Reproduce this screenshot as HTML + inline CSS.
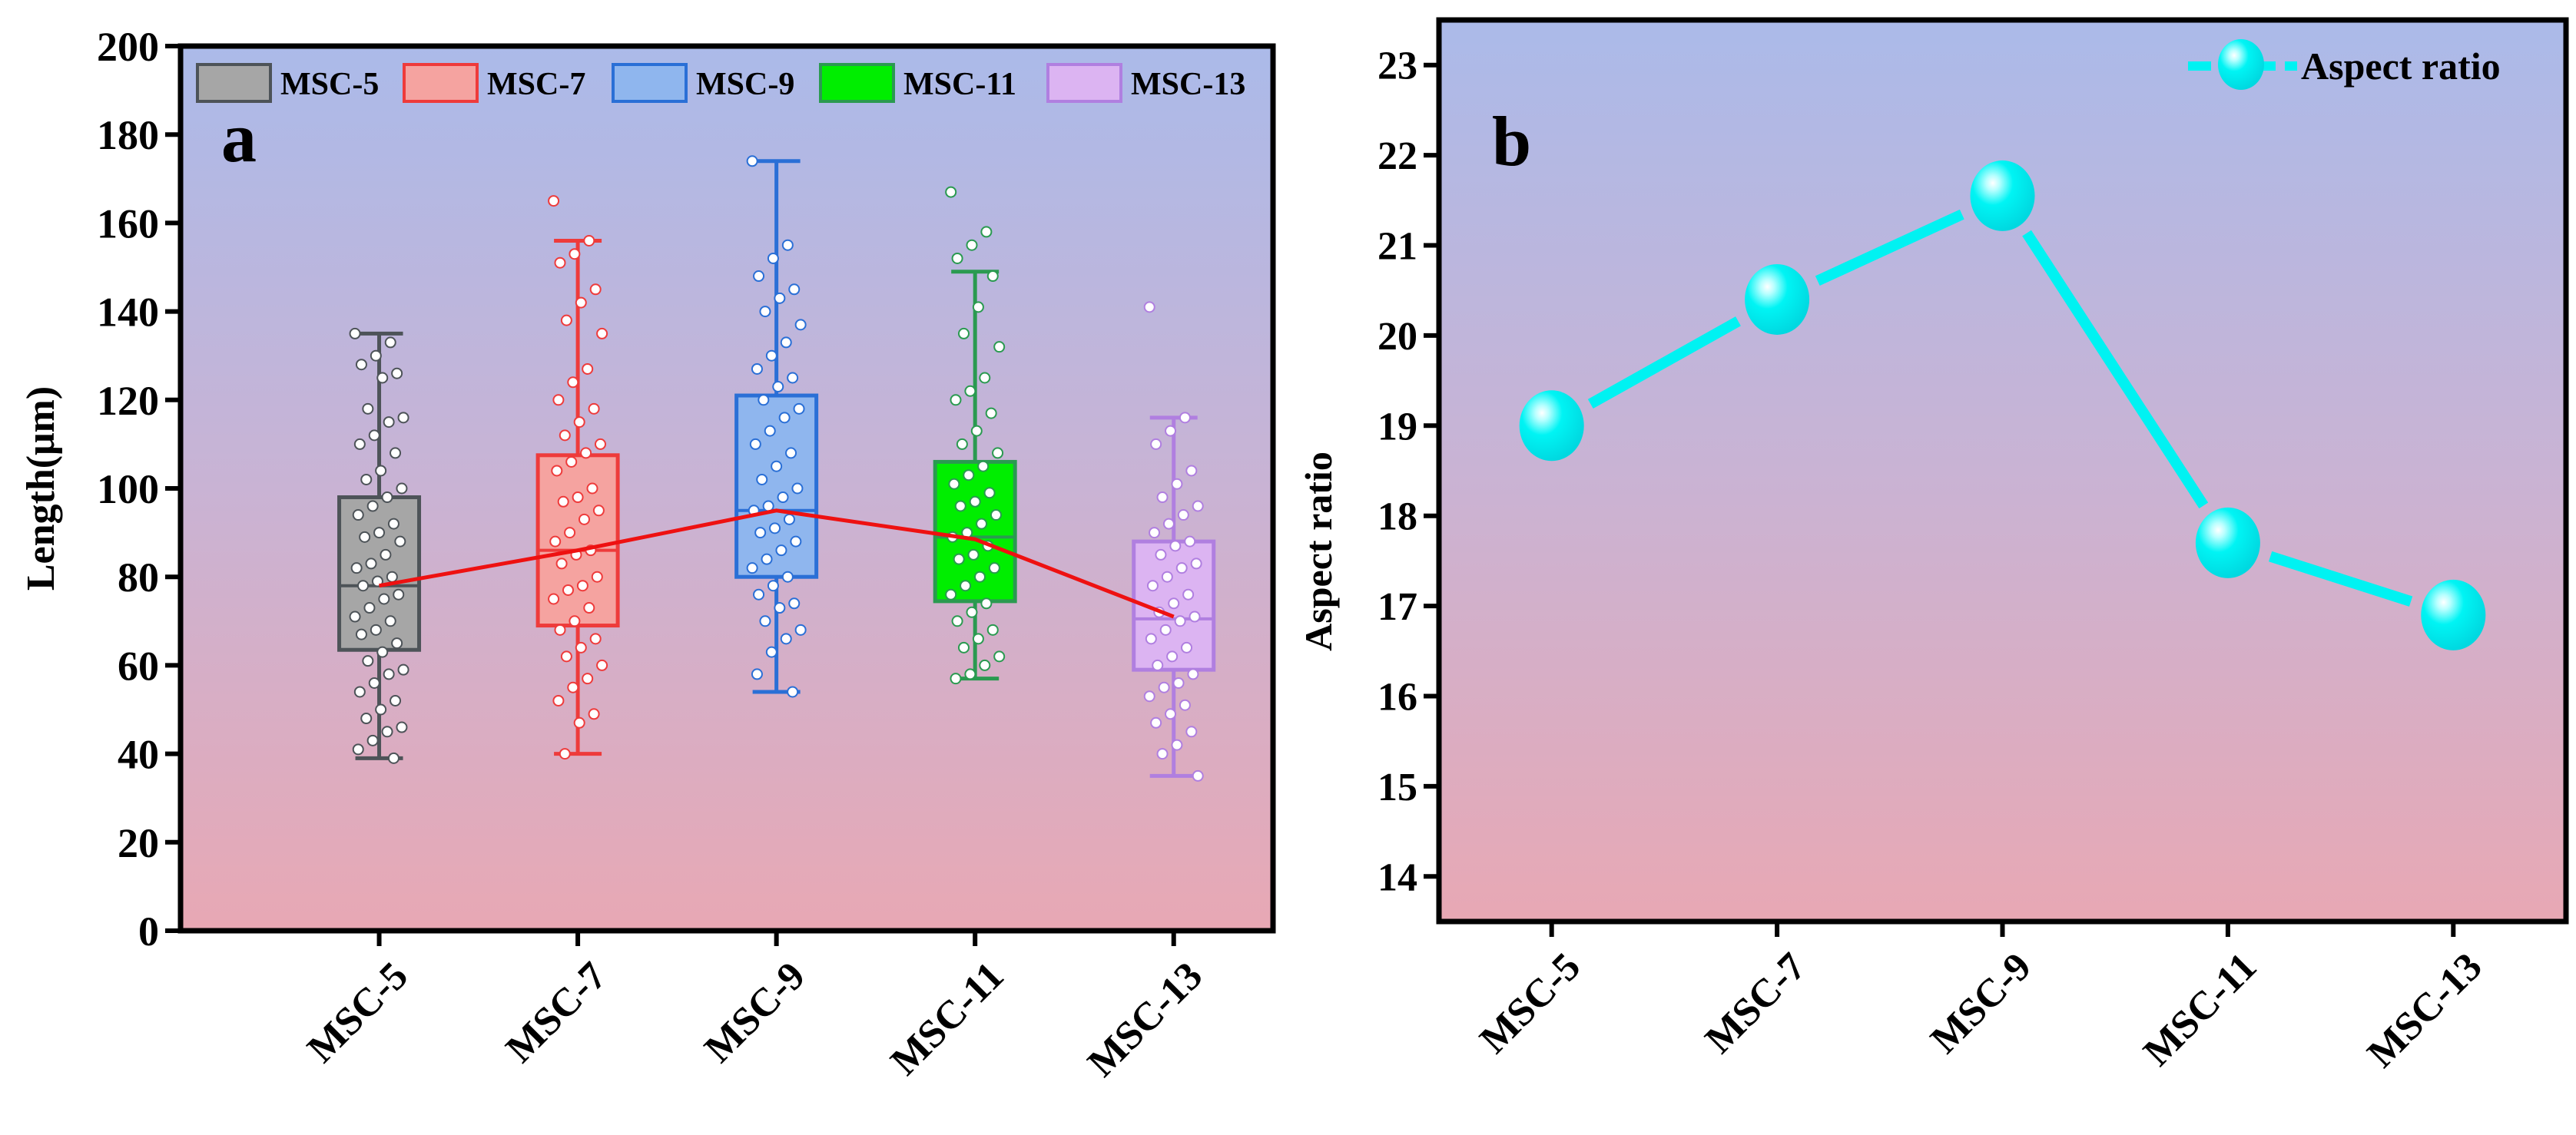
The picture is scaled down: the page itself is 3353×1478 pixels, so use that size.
<!DOCTYPE html>
<html><head><meta charset="utf-8"><style>
html,body{margin:0;padding:0;background:#fff;}
svg text{font-family:"Liberation Serif",serif;font-weight:bold;}
</style></head><body>
<svg id="fig" width="3353" height="1473" viewBox="0 0 3353 1473" xmlns="http://www.w3.org/2000/svg">
<defs>
<linearGradient id="bg" x1="0" y1="0" x2="0" y2="1">
<stop offset="0" stop-color="#abbae9"/><stop offset="0.5" stop-color="#c9b3d4"/><stop offset="1" stop-color="#e8a8b4"/>
</linearGradient>
<radialGradient id="sph" cx="0.35" cy="0.32" r="0.7">
<stop offset="0" stop-color="#ffffff"/><stop offset="0.15" stop-color="#b8ffff"/><stop offset="0.45" stop-color="#00f4f4"/><stop offset="1" stop-color="#00d8e0"/>
</radialGradient>
</defs>
<g id="pa"></g>
<g id="pb"></g>
</svg>
<script>
// ---------- Panel a data ----------
const catsA = ["MSC-5","MSC-7","MSC-9","MSC-11","MSC-13"];
const whiskLow = [39,40,54,57,35];
const q1 = [63.5,69,80,74.5,59];
const medians = [78,86,95,89,70.5];
const q3 = [98,107.5,121,106,88];
const whiskHigh = [135,156,174,149,116];
const means = [78,86,95,88.5,71];
const yTicksA = [0,20,40,60,80,100,120,140,160,180,200];
const pts5 = [135,133,130,128,126,125,118,116,115,112,110,108,104,102,100,98,96,94,92,90,89,88,85,83,82,80,79,78,76,75,73,71,70,68,67,65,63,61,59,58,56,54,52,50,48,46,45,43,41,39];
const pts7 = [165,156,153,151,145,142,138,135,127,124,120,118,115,112,110,108,106,104,100,98,97,95,93,90,88,86,85,83,80,78,77,75,73,70,68,66,64,62,60,57,55,52,49,47,40];
const pts9 = [174,155,152,148,145,143,140,137,133,130,127,125,123,120,118,116,113,110,108,105,102,100,98,96,95,93,91,90,88,86,84,82,80,78,76,74,73,70,68,66,63,58,54];
const pts11 = [167,158,155,152,148,141,135,132,125,122,120,117,113,110,108,105,103,101,99,97,96,94,92,90,89,87,85,84,82,80,78,76,74,72,70,68,66,64,62,60,58,57];
const pts13 = [141,116,113,110,104,101,98,96,94,92,90,88,87,85,83,82,80,78,76,74,72,71,70,68,66,64,62,60,58,56,55,53,51,49,47,45,42,40,35];
// ---------- Panel b data ----------
const catsB = ["MSC-5","MSC-7","MSC-9","MSC-11","MSC-13"];
const aspect = [19.0,20.4,21.55,17.7,16.9];
const yTicksB = [14,15,16,17,18,19,20,21,22,23];

const NS="http://www.w3.org/2000/svg";
function mk(parent,tag,attrs,txt){const e=document.createElementNS(NS,tag);for(const k in attrs)e.setAttribute(k,attrs[k]);if(txt!==undefined)e.textContent=txt;parent.appendChild(e);return e;}

const fills=["#a6a6a6","#f5a3a0","#8fb6ee","#00ee00","#dcb4f2"];
const edges=["#4d5358","#ee3b3b","#2a6fd6","#2a9a50","#b07fe0"];
const ptsAll=[pts5,pts7,pts9,pts11,pts13];

// ===== Panel A =====
(function(){
const g=document.getElementById('pa');
const L=235,R=1657,T=60,B=1212;
const xA=i=>L+(i+1)*(R-L)/5.5;
const yA=v=>B-(v/200)*(B-T);
let r=mk(g,'rect',{x:L,y:T,width:R-L,height:B-T,fill:'url(#bg)'});


// y ticks
yTicksA.forEach(v=>{
 let t=mk(g,'line',{x1:L-20,x2:L,y1:yA(v),y2:yA(v),stroke:'#000','stroke-width':6});
 
 
 let tx=mk(g,'text',{x:L-28,y:yA(v)+19,'text-anchor':'end','font-size':54,fill:'#000'},String(v));
 
 
});
// boxes
catsA.forEach((c,i)=>{
 const cx=xA(i),bw=104,cw=62;
 const bg=mk(g,'g',{});
 
 
 mk(bg,'line',{x1:cx,x2:cx,y1:yA(whiskLow[i]),y2:yA(whiskHigh[i]),stroke:edges[i],'stroke-width':5});
 mk(bg,'line',{x1:cx-cw/2,x2:cx+cw/2,y1:yA(whiskLow[i]),y2:yA(whiskLow[i]),stroke:edges[i],'stroke-width':5});
 mk(bg,'line',{x1:cx-cw/2,x2:cx+cw/2,y1:yA(whiskHigh[i]),y2:yA(whiskHigh[i]),stroke:edges[i],'stroke-width':5});
 mk(bg,'rect',{x:cx-bw/2,y:yA(q3[i]),width:bw,height:yA(q1[i])-yA(q3[i]),fill:fills[i],stroke:edges[i],'stroke-width':5});
 mk(bg,'line',{x1:cx-bw/2,x2:cx+bw/2,y1:yA(medians[i]),y2:yA(medians[i]),stroke:edges[i],'stroke-width':4});
 ptsAll[i].forEach((v,j)=>{
  const off=(((j*53)%31)-15)*2.1;
  let p=mk(bg,'circle',{cx:cx+off,cy:yA(v),r:6.5,fill:'#fff',stroke:edges[i],'stroke-width':2});
  
  
 });
});
// mean line
let ml=mk(g,'polyline',{points:means.map((v,i)=>xA(i)+','+yA(v)).join(' '),fill:'none',stroke:'#ee1111','stroke-width':5});


// frame
let fr=mk(g,'rect',{x:L,y:T,width:R-L,height:B-T,fill:'none',stroke:'#000','stroke-width':7});


// x ticks + labels
catsA.forEach((c,i)=>{
 let t=mk(g,'line',{x1:xA(i),x2:xA(i),y1:B,y2:B+20,stroke:'#000','stroke-width':6});
 
 
 const ex=xA(i)+40,ey=B+62;
 let tx=mk(g,'text',{x:ex,y:ey,'text-anchor':'end','font-size':52,fill:'#000',transform:`rotate(-45 ${ex} ${ey})`},c);
 
 
});
let yt=mk(g,'text',{x:70,y:636,'text-anchor':'middle','font-size':52,fill:'#000',transform:'rotate(-90 70 636)'},'Length(μm)');


let la=mk(g,'text',{x:288,y:210,'font-size':92,fill:'#000'},'a');


// legend
const legX=[257,526,798,1068,1364];
catsA.forEach((c,i)=>{
 const lg=mk(g,'g',{});
 
 
 mk(lg,'rect',{x:legX[i],y:84,width:95,height:48,fill:fills[i],stroke:edges[i],'stroke-width':4});
 mk(lg,'text',{x:legX[i]+108,y:123,'font-size':42,fill:'#000'},c);
});
})();

// ===== Panel B =====
(function(){
const g=document.getElementById('pb');
const L=1873,R=3340,T=26,B=1200;
const xB=i=>L+(i+0.5)*(R-L)/5;
const yB=v=>B-(v-13.5)/10*(B-T);
let r=mk(g,'rect',{x:L,y:T,width:R-L,height:B-T,fill:'url(#bg)'});


yTicksB.forEach(v=>{
 let t=mk(g,'line',{x1:L-20,x2:L,y1:yB(v),y2:yB(v),stroke:'#000','stroke-width':6});
 
 
 let tx=mk(g,'text',{x:L-28,y:yB(v)+18,'text-anchor':'end','font-size':52,fill:'#000'},String(v));
 
 
});
// line segments with gaps
const gap=58;
for(let i=0;i<aspect.length-1;i++){
 const x1=xB(i),y1=yB(aspect[i]),x2=xB(i+1),y2=yB(aspect[i+1]);
 const d=Math.hypot(x2-x1,y2-y1),ux=(x2-x1)/d,uy=(y2-y1)/d;
 let s=mk(g,'line',{x1:x1+ux*gap,y1:y1+uy*gap,x2:x2-ux*gap,y2:y2-uy*gap,stroke:'#00f2f2','stroke-width':14});
 
 
}
aspect.forEach((v,i)=>{
 let c=mk(g,'ellipse',{cx:xB(i),cy:yB(v),rx:42,ry:46,fill:'url(#sph)'});
 
 
});
let fr=mk(g,'rect',{x:L,y:T,width:R-L,height:B-T,fill:'none',stroke:'#000','stroke-width':7});


catsB.forEach((c,i)=>{
 let t=mk(g,'line',{x1:xB(i),x2:xB(i),y1:B,y2:B+20,stroke:'#000','stroke-width':6});
 
 
 const ex=xB(i)+40,ey=B+62;
 let tx=mk(g,'text',{x:ex,y:ey,'text-anchor':'end','font-size':52,fill:'#000',transform:`rotate(-45 ${ex} ${ey})`},c);
 
 
});
let yt=mk(g,'text',{x:1733,y:718,'text-anchor':'middle','font-size':50,fill:'#000',transform:'rotate(-90 1733 718)'},'Aspect ratio');


let lb=mk(g,'text',{x:1942,y:215,'font-size':92,fill:'#000'},'b');


const lg=mk(g,'g',{});


mk(lg,'line',{x1:2848,x2:2990,y1:86,y2:86,stroke:'#00f2f2','stroke-width':12,'stroke-dasharray':'30 12'});
mk(lg,'ellipse',{cx:2917,cy:84,rx:30,ry:33,fill:'url(#sph)'});
mk(lg,'text',{x:2995,y:103,'font-size':50,fill:'#000'},'Aspect ratio');
})();
</script>
</body></html>
